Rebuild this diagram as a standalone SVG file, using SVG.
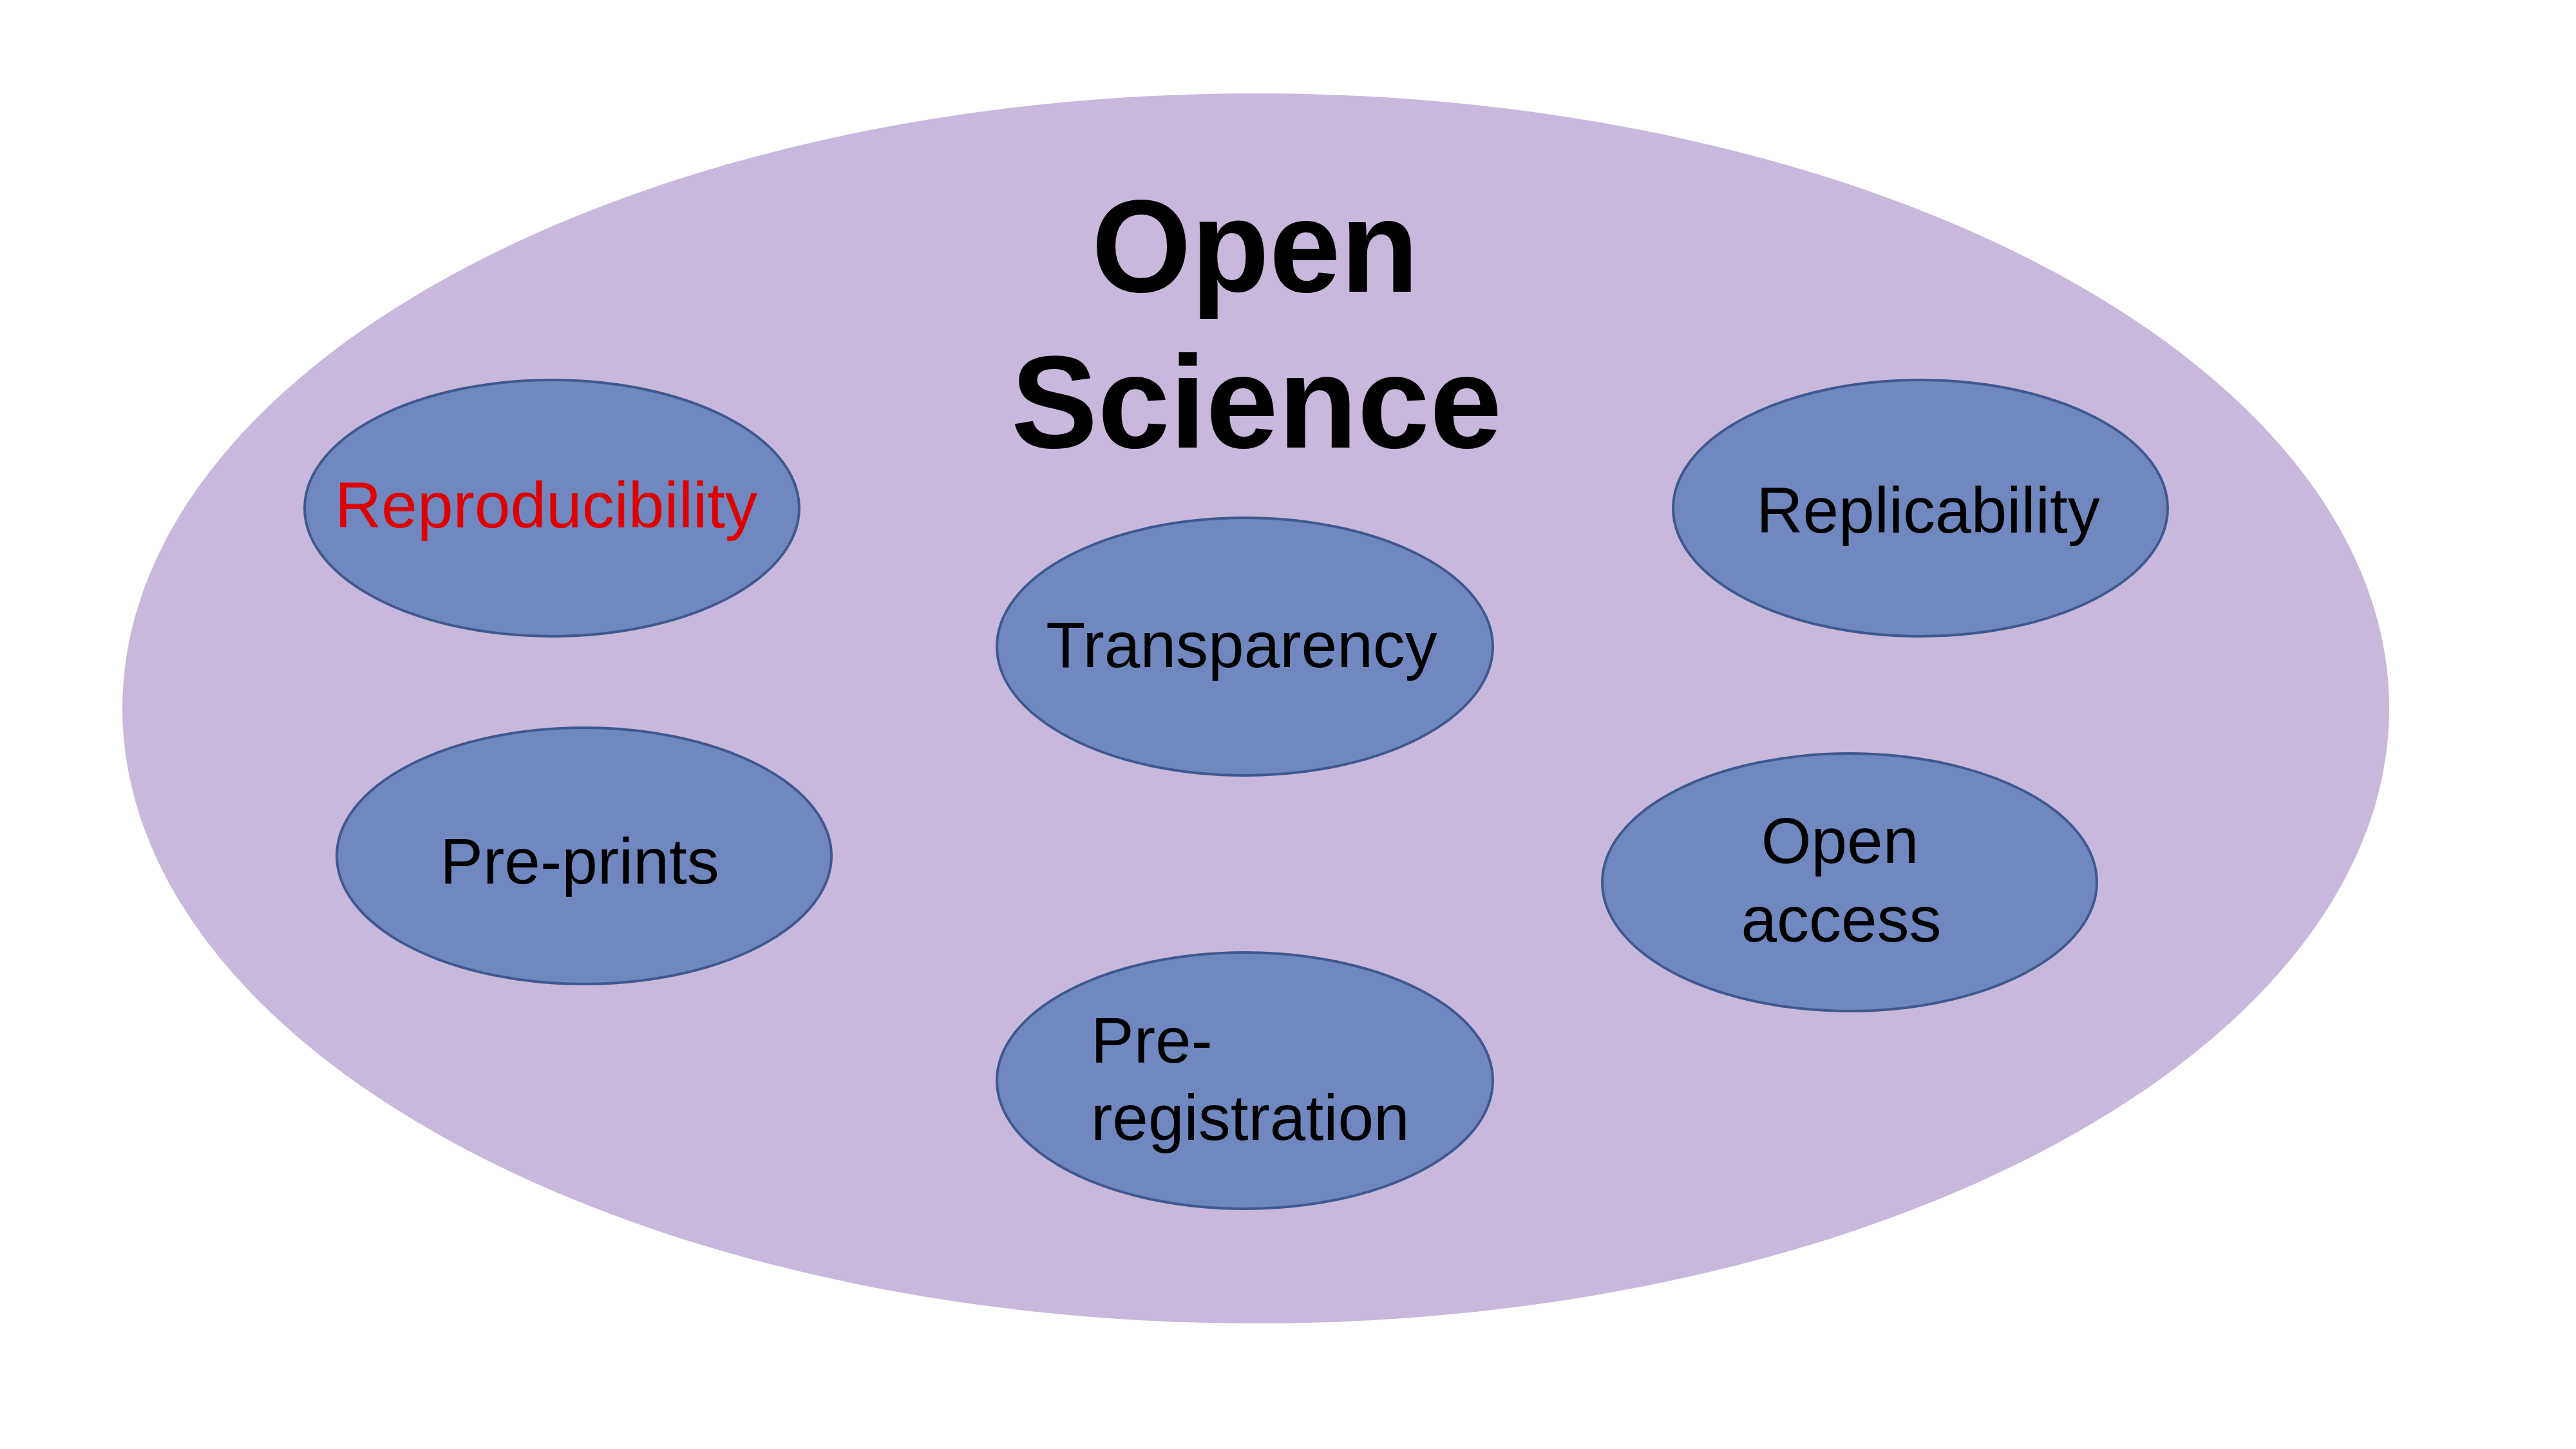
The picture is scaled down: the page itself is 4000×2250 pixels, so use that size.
<svg xmlns="http://www.w3.org/2000/svg" width="4000" height="2250" viewBox="0 0 4000 2250">
  <style>
    .outer { fill: #C8B8DB; }
    .bubble { fill: #7088BF; stroke: #3F5890; stroke-width: 4; }
    .lbl { font-family: "Liberation Sans", Arial, sans-serif; font-size: 100px; fill: #000000; }
    .title { font-family: "Liberation Sans", Arial, sans-serif; font-size: 205px; font-weight: bold; fill: #000000; }
    .red { fill: #DD0000; }
  </style>
  <rect width="4000" height="2250" fill="#FFFFFF"/>

  <!-- Outer field -->
  <g id="open-science">
    <ellipse class="outer" cx="1950" cy="1100" rx="1760" ry="955"/>
    <text class="title" x="1949" y="453" text-anchor="middle" textLength="508" lengthAdjust="spacingAndGlyphs">Open</text>
    <text class="title" x="1951" y="695" text-anchor="middle" textLength="762" lengthAdjust="spacingAndGlyphs">Science</text>
  </g>

  <g id="reproducibility">
    <ellipse class="bubble" cx="857" cy="789" rx="384" ry="199"/>
    <text class="lbl red" x="848" y="819" text-anchor="middle">Reproducibility</text>
  </g>

  <g id="transparency">
    <ellipse class="bubble" cx="1933" cy="1004" rx="385" ry="200"/>
    <text class="lbl" x="1928" y="1036" text-anchor="middle">Transparency</text>
  </g>

  <g id="replicability">
    <ellipse class="bubble" cx="2982" cy="789" rx="384" ry="199"/>
    <text class="lbl" x="2994" y="827" text-anchor="middle">Replicability</text>
  </g>

  <g id="pre-prints">
    <ellipse class="bubble" cx="907" cy="1329" rx="384" ry="199"/>
    <text class="lbl" x="900" y="1372" text-anchor="middle">Pre-prints</text>
  </g>

  <g id="open-access">
    <ellipse class="bubble" cx="2872" cy="1370" rx="384" ry="200"/>
    <text class="lbl" x="2857" y="1340" text-anchor="middle">Open</text>
    <text class="lbl" x="2859" y="1462" text-anchor="middle">access</text>
  </g>

  <g id="pre-registration">
    <ellipse class="bubble" cx="1933" cy="1678" rx="385" ry="199"/>
    <text class="lbl" x="1694" y="1650">Pre-</text>
    <text class="lbl" x="1694" y="1770">registration</text>
  </g>

  <g id="connectors"></g>
</svg>
